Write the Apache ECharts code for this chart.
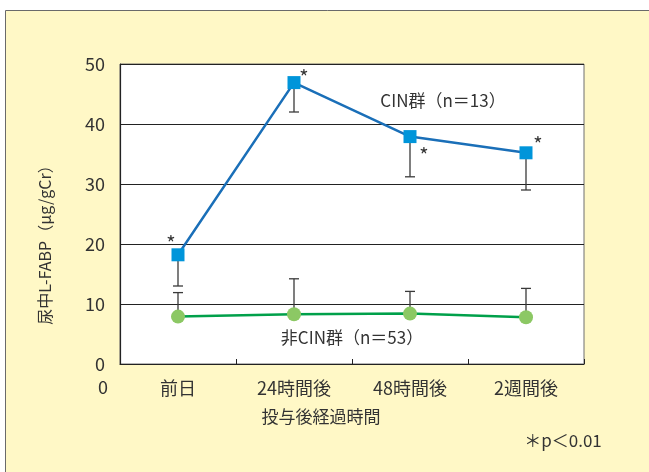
<!DOCTYPE html>
<html>
<head>
<meta charset="utf-8">
<script src="https://cdn.jsdelivr.net/npm/echarts@6/dist/echarts.min.js"></script>
<style>
  html, body { margin: 0; padding: 0; background: #ffffff; }
  #chart { width: 649px; height: 472px; }
</style>
</head>
<body>
<div id="chart"></div>
<script>
// Time points after contrast administration
const categories = ['前日', '24時間後', '48時間後', '2週間後'];

// CIN group (n=13): means and lower error-bar ends
const cinMean  = [18.2, 46.9, 37.9, 35.2];
const cinLower = [13.0, 42.0, 31.2, 29.0];

// Non-CIN group (n=53): means and upper error-bar ends
const nonMean  = [7.9, 8.3, 8.4, 7.8];
const nonUpper = [11.9, 14.2, 12.1, 12.6];

// Significance marks on the CIN group
const cinMarks = ['*', '*', '*', '*'];

const yTicks = [0, 10, 20, 30, 40, 50];

const FONT = '"Noto Sans CJK JP", "Noto Sans", sans-serif';
const TEXT = '#333333';

// where each significance mark sits relative to its point
const markOffsets = [[-7, -11], [10, -5], [14, 19], [12, -8]];

function errorBars(name, means, ends) {
  return {
    type: 'custom',
    name: name,
    z: 1,
    silent: true,
    encode: { x: 0, y: [1, 2] },
    data: means.map((m, i) => [i, m, ends[i]]),
    renderItem: function (params, api) {
      const p = api.coord([api.value(0), api.value(1)]);
      const e = api.coord([api.value(0), api.value(2)]);
      const half = 5;
      const st = { stroke: '#3a3a3a', lineWidth: 1.3 };
      return {
        type: 'group',
        children: [
          { type: 'line', shape: { x1: p[0], y1: p[1], x2: e[0], y2: e[1] }, style: st },
          { type: 'line', shape: { x1: e[0] - half, y1: e[1], x2: e[0] + half, y2: e[1] }, style: st }
        ]
      };
    }
  };
}

const chart = echarts.init(document.getElementById('chart'), null, { renderer: 'canvas' });

chart.setOption({
  backgroundColor: '#ffffff',
  animation: false,
  textStyle: { fontFamily: FONT },
  grid: {
    left: 120, top: 64, width: 464, height: 300,
    show: true, backgroundColor: '#ffffff',
    borderColor: '#6e6e6e', borderWidth: 1
  },
  xAxis: {
    type: 'category',
    data: categories,
    boundaryGap: true,
    axisLine: { show: true, lineStyle: { color: '#222222', width: 1.2 } },
    axisTick: { show: true, inside: true, length: 5, lineStyle: { color: '#222222' } },
    axisLabel: { color: TEXT, fontSize: 18, margin: 15, fontFamily: FONT },
    splitLine: { show: false }
  },
  yAxis: {
    type: 'value',
    min: yTicks[0], max: yTicks[yTicks.length - 1], interval: 10,
    axisLine: { show: true, lineStyle: { color: '#222222', width: 1.2 } },
    axisTick: { show: false },
    axisLabel: { color: TEXT, fontSize: 18, margin: 15, fontFamily: FONT },
    splitLine: { show: true, lineStyle: { color: '#222222', width: 1.2 } }
  },
  graphic: [
    {
      type: 'rect', z: -100, silent: true,
      shape: { x: 5.5, y: 10.5, width: 800, height: 600 },
      style: { fill: '#fff8c6', stroke: '#6a6a6a', lineWidth: 1 }
    },
    {
      type: 'text', left: 98, top: 378,
      style: { text: '0', fill: TEXT, font: '18px ' + FONT }
    },
    {
      type: 'text', x: 321, y: 417,
      style: { text: '投与後経過時間', fill: TEXT, font: '17px ' + FONT, align: 'center', verticalAlign: 'middle' }
    },
    {
      type: 'text', x: 45, y: 241, rotation: Math.PI / 2,
      style: { text: '尿中L-FABP（μg/gCr）', fill: TEXT, font: '16px ' + FONT, align: 'center', verticalAlign: 'middle' }
    },
    {
      type: 'text', x: 443, y: 101,
      style: { text: 'CIN群（n＝13）', fill: TEXT, font: '17px ' + FONT, align: 'center', verticalAlign: 'middle' }
    },
    {
      type: 'text', x: 352, y: 338,
      style: { text: '非CIN群（n＝53）', fill: TEXT, font: '17px ' + FONT, align: 'center', verticalAlign: 'middle' }
    },
    {
      type: 'text', x: 563, y: 441,
      style: { text: '＊p＜0.01', fill: TEXT, font: '17px ' + FONT, align: 'center', verticalAlign: 'middle' }
    }
  ],
  series: [
    errorBars('CIN SD', cinMean, cinLower),
    errorBars('非CIN SD', nonMean, nonUpper),
    {
      type: 'line',
      name: 'CIN群',
      z: 3,
      data: cinMean.map((v, i) => ({
        value: v,
        label: {
          show: true,
          formatter: cinMarks[i],
          position: 'inside',
          offset: markOffsets[i],
          color: TEXT,
          fontSize: 20,
          fontFamily: FONT
        }
      })),
      symbol: 'rect',
      symbolSize: 13,
      itemStyle: { color: '#0095da' },
      lineStyle: { color: '#1a6fb8', width: 2.5 }
    },
    {
      type: 'line',
      name: '非CIN群',
      z: 3,
      data: nonMean,
      symbol: 'circle',
      symbolSize: 14,
      itemStyle: { color: '#8cc864' },
      lineStyle: { color: '#00a04a', width: 2.5 }
    }
  ]
});
</script>
</body>
</html>
